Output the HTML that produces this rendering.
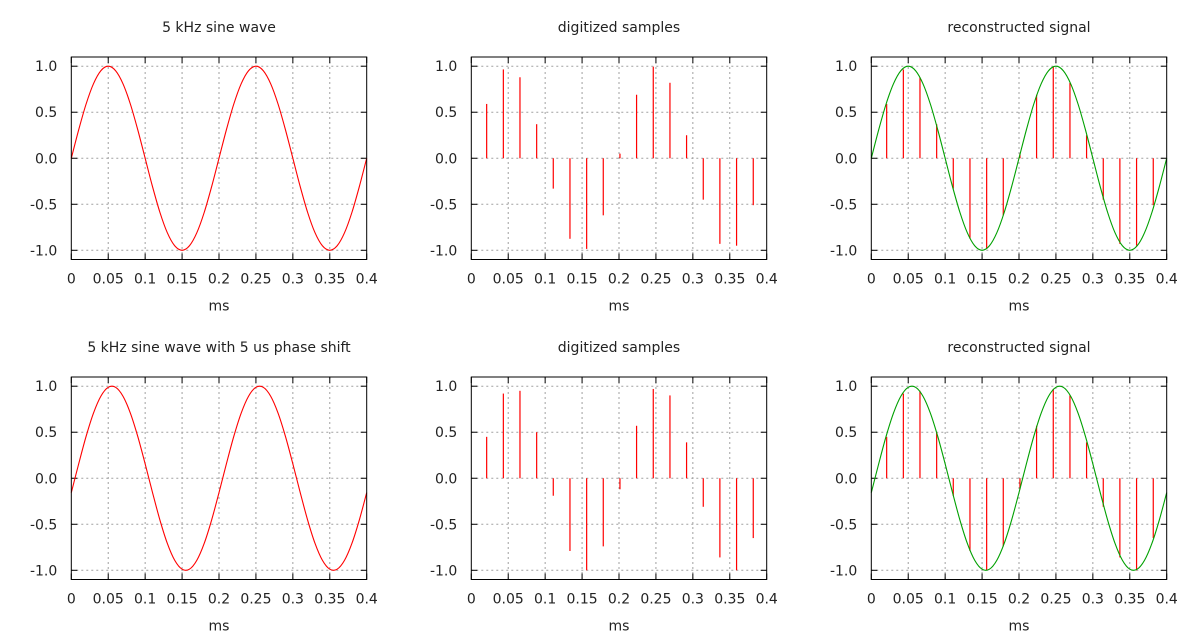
<!DOCTYPE html>
<html><head><meta charset="utf-8"><style>
html,body{margin:0;padding:0;background:#fff;}
svg{display:block;}
text{font-family:"DejaVu Sans","Liberation Sans",sans-serif;font-size:14px;fill:#222;}
</style></head><body>
<svg id="chart" width="1200" height="640" viewBox="0 0 1200 640" xmlns="http://www.w3.org/2000/svg"></svg>
<script>
// data
const xTicks = [0, 0.05, 0.1, 0.15, 0.2, 0.25, 0.3, 0.35, 0.4];
const xTickLabels = ["0","0.05","0.1","0.15","0.2","0.25","0.3","0.35","0.4"];
const yTicks = [1.0, 0.5, 0.0, -0.5, -1.0];
const yTickLabels = ["1.0","0.5","0.0","-0.5","-1.0"];
const curveTimes = [0,0.01,0.02,0.03,0.04,0.05,0.06,0.07,0.08,0.09,0.10,0.11,0.12,0.13,0.14,0.15,0.16,0.17,0.18,0.19,0.20,0.21,0.22,0.23,0.24,0.25,0.26,0.27,0.28,0.29,0.30,0.31,0.32,0.33,0.34,0.35,0.36,0.37,0.38,0.39,0.40];
const sineValues = [0,0.309,0.588,0.809,0.951,1,0.951,0.809,0.588,0.309,0,-0.309,-0.588,-0.809,-0.951,-1,-0.951,-0.809,-0.588,-0.309,0,0.309,0.588,0.809,0.951,1,0.951,0.809,0.588,0.309,0,-0.309,-0.588,-0.809,-0.951,-1,-0.951,-0.809,-0.588,-0.309,0];
const shiftedValues = [-0.156,0.156,0.454,0.707,0.891,0.988,0.988,0.891,0.707,0.454,0.156,-0.156,-0.454,-0.707,-0.891,-0.988,-0.988,-0.891,-0.707,-0.454,-0.156,0.156,0.454,0.707,0.891,0.988,0.988,0.891,0.707,0.454,0.156,-0.156,-0.454,-0.707,-0.891,-0.988,-0.988,-0.891,-0.707,-0.454,-0.156];
const sampleTimes = [0.0208,0.0434,0.0659,0.0885,0.1110,0.1336,0.1562,0.1787,0.2013,0.2238,0.2464,0.2690,0.2915,0.3141,0.3366,0.3592,0.3818];
const samplesA = [0.59,0.965,0.88,0.37,-0.33,-0.875,-0.985,-0.62,0.05,0.69,0.995,0.82,0.25,-0.45,-0.93,-0.95,-0.51];
const samplesB = [0.45,0.92,0.95,0.50,-0.19,-0.79,-1.0,-0.74,-0.12,0.57,0.97,0.90,0.39,-0.31,-0.86,-1.0,-0.65];

const NS = "http://www.w3.org/2000/svg";
const svg = document.getElementById('chart');
function mk(tag, attrs, parent){const e=document.createElementNS(NS,tag);for(const k in attrs)e.setAttribute(k,attrs[k]);(parent||svg).appendChild(e);return e;}

const panels = [
  {col:0,row:0,title:"5 kHz sine wave",curve:sineValues,samples:null,color:"#ff0000"},
  {col:1,row:0,title:"digitized samples",curve:null,samples:samplesA},
  {col:2,row:0,title:"reconstructed signal",curve:sineValues,samples:samplesA,color:"#00a000"},
  {col:0,row:1,title:"5 kHz sine wave with 5 us phase shift",curve:shiftedValues,samples:null,color:"#ff0000"},
  {col:1,row:1,title:"digitized samples",curve:null,samples:samplesB},
  {col:2,row:1,title:"reconstructed signal",curve:shiftedValues,samples:samplesB,color:"#00a000"}
];

panels.forEach((p,i)=>{
  const L = 71.3 + p.col*400, R = L + 295.4;
  const T = 57 + p.row*320, B = T + 202.5;
  const yMid = (T+B)/2, yScale = (B-T)/2.2;
  const X = v => L + (v/0.4)*(R-L);
  const Y = v => yMid - v*yScale;
  const g = mk('g',{});
  
  
  const t = mk('text',{x:(L+R)/2,y:T-25,'text-anchor':'middle','font-size':'15px'},g);
  t.textContent = p.title;
  
  
  xTicks.forEach((v,j)=>{
    if(j>0 && j<xTicks.length-1){
      const l=mk('line',{x1:X(v),x2:X(v),y1:T,y2:B,stroke:'#a0a0a0','stroke-width':1,'stroke-dasharray':'2,3'},g);
      
      
    }
    mk('line',{x1:X(v),x2:X(v),y1:B,y2:B-6,stroke:'#000'},g);
    mk('line',{x1:X(v),x2:X(v),y1:T,y2:T+6,stroke:'#000'},g);
    const tl=mk('text',{x:X(v),y:B+24,'text-anchor':'middle'},g);
    tl.textContent = xTickLabels[j];
    
    
  });
  yTicks.forEach((v,j)=>{
    const l=mk('line',{x1:L,x2:R,y1:Y(v),y2:Y(v),stroke:'#a0a0a0','stroke-width':1,'stroke-dasharray':'2,3'},g);
    
    
    mk('line',{x1:L,x2:L+6,y1:Y(v),y2:Y(v),stroke:'#000'},g);
    mk('line',{x1:R,x2:R-6,y1:Y(v),y2:Y(v),stroke:'#000'},g);
    const tl=mk('text',{x:L-14,y:Y(v)+5,'text-anchor':'end'},g);
    tl.textContent = yTickLabels[j];
    
    
  });
  const xt = mk('text',{x:(L+R)/2,y:B+51,'text-anchor':'middle'},g);
  xt.textContent = 'ms';
  
  
  if(p.samples){
    p.samples.forEach((v,j)=>{
      const s=mk('line',{x1:X(sampleTimes[j]),x2:X(sampleTimes[j]),y1:Y(0),y2:Y(v),stroke:'#ff0000','stroke-width':1.2},g);
      
      
    });
  }
  if(p.curve){
    const pts = curveTimes.map((tt,j)=>[X(tt),Y(p.curve[j])]);
    let d = 'M'+pts[0][0]+','+pts[0][1];
    for(let k=0;k<pts.length-1;k++){
      const p0=pts[Math.max(0,k-1)],p1=pts[k],p2=pts[k+1],p3=pts[Math.min(pts.length-1,k+2)];
      const c1=[p1[0]+(p2[0]-p0[0])/6,p1[1]+(p2[1]-p0[1])/6];
      const c2=[p2[0]-(p3[0]-p1[0])/6,p2[1]-(p3[1]-p1[1])/6];
      d+=' C'+c1[0]+','+c1[1]+' '+c2[0]+','+c2[1]+' '+p2[0]+','+p2[1];
    }
    const c=mk('path',{d:d,fill:'none',stroke:p.color,'stroke-width':1.1},g);
    
    
  }
  const box=mk('rect',{x:L,y:T,width:R-L,height:B-T,fill:'none',stroke:'#000','stroke-width':1},g);
  
  
});
</script>
</body></html>
